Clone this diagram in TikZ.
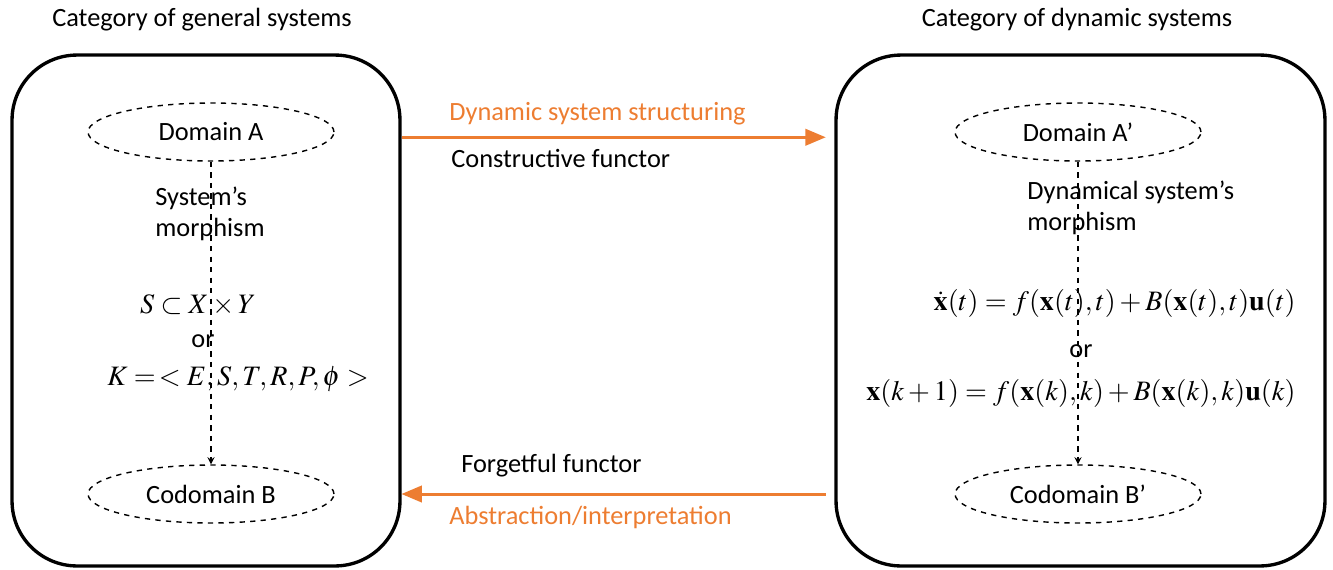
\documentclass[tikz,border=0pt]{standalone}
\usepackage{amsmath}
\usepackage{amssymb}
\usepackage{mathptmx}
\usepackage{fontspec}
\setmainfont{Carlito}
\usepackage{tikz}
\usetikzlibrary{shapes.geometric, arrows, positioning}
\definecolor{pptorange}{RGB}{237,125,49}
\tikzstyle{category} = [rectangle, rounded corners=1.3cm, line width=1.9pt, draw=black]
\tikzstyle{domnode} = [ellipse, minimum width=4.92cm, minimum height=1.16cm, inner sep=0pt, draw=black, dashed, line width=0.8pt]
\tikzstyle{morph} = [dashed, line width=0.8pt, ->, >=stealth]
\tikzstyle{functor} = [line width=1.7pt, pptorange, ->, >=triangle 45]
\tikzstyle{lbl} = [font=\fontsize{15}{17.6}\selectfont, inner sep=0pt]
\tikzstyle{eq} = [font=\fontsize{16}{19}\selectfont, inner sep=0pt]

\begin{document}
\begin{tikzpicture}[x=0.02cm, y=-0.02cm]
			\useasboundingbox (0,0) rectangle (1333,569);
			% the two categories
			\node (sysL) [category, minimum width=7.76cm, minimum height=10.22cm] at (206,310.5) {};
			\node (sysR) [category, minimum width=9.78cm, minimum height=10.22cm] at (1080.5,310.5) {};
			\node (titleL) [lbl] at (202,20) {Category of general systems};
			\node (titleR) [lbl] at (1077,20) {Category of dynamic systems};
			
			\node (domA) [domnode, lbl] at (211,132) {Domain A};
			\node (codB) [domnode, lbl] at (211,494) {Codomain B};
			\node (domA2) [domnode, lbl] at (1078,132) {Domain A’};
			\node (codB2) [domnode, lbl] at (1078,494) {Codomain B’};
			
			\draw [morph] (domA) -- (codB);
			\draw [morph] (domA2) -- (codB2);
			
			% left morphism
			\node (morL) [lbl, align=left, anchor=west] at (155,213.5) {System’s\\morphism};
			\node (setS) [eq] at (198,305) {$S\subset X\times Y$};
			\node (orL) [lbl] at (203,341) {or};
			\node (tupK) [eq] at (238,379) {$K=\,<E,S,T,R,P,\phi>$};
			
			% right morphism
			\node (morR) [lbl, align=left, anchor=west] at (1027,207.5) {Dynamical system’s\\morphism};
			\node (contEq) [eq, anchor=east] at (1296,303) {$\dot{\mathbf{x}}(t)=f(\mathbf{x}(t),t)+B(\mathbf{x}(t),t)\mathbf{u}(t)$};
			\node (orR) [lbl] at (1081,351) {or};
			\node (discEq) [eq, anchor=east] at (1296,393) {$\mathbf{x}(k+1)=f(\mathbf{x}(k),k)+B(\mathbf{x}(k),k)\mathbf{u}(k)$};
			
			% functors
			\draw [functor] ([yshift=-3pt]sysL.east |- domA) -- ([xshift=-5pt, yshift=-3pt]sysR.west |- domA);
			\draw [functor] ([xshift=-5pt]sysR.west |- codB) -- (sysL.east |- codB);
			\node (struct) [lbl, pptorange, anchor=west] at (449,114) {Dynamic system structuring};
			\node (constr) [lbl, anchor=west] at (451,158) {Constructive functor};
			\node (forget) [lbl, anchor=west] at (461,466) {Forgetful functor};
			\node (abstr) [lbl, pptorange, anchor=west] at (449,517) {Abstraction/interpretation};
\end{tikzpicture}
\end{document}
